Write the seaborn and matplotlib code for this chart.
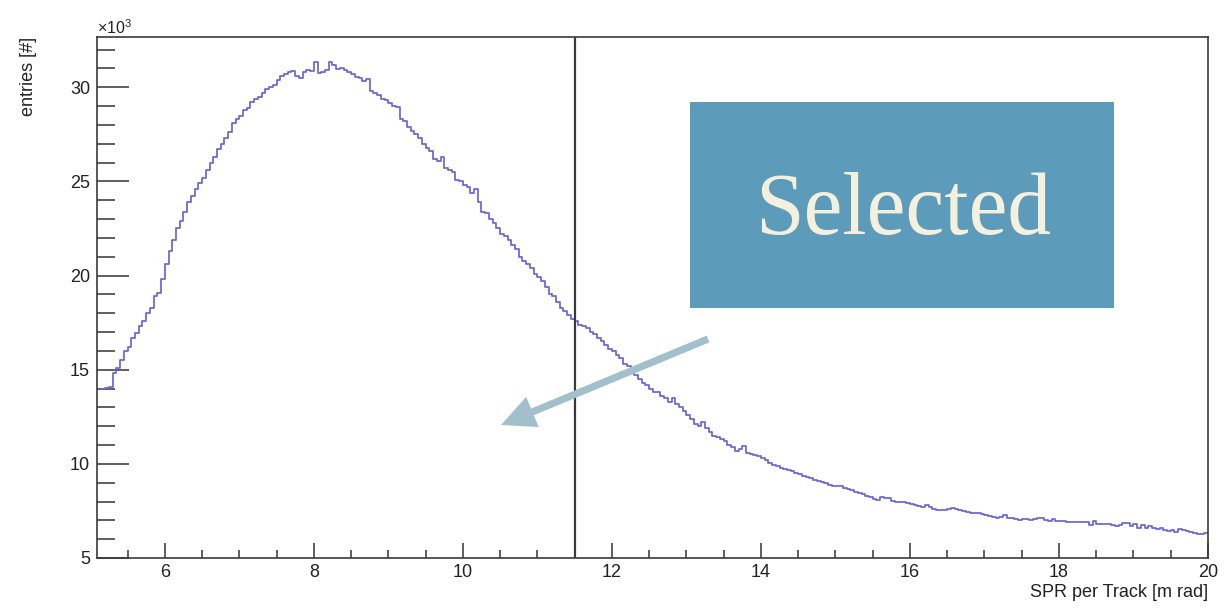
import numpy as np
import pandas as pd
import matplotlib
matplotlib.use("Agg")
import matplotlib.pyplot as plt
import seaborn as sns
from matplotlib.ticker import MultipleLocator, FixedLocator
from matplotlib.patches import Rectangle, FancyArrowPatch

# ---------------- data (entries in thousands) ----------------
bin_start = 5.15
bin_width = 0.05
counts_k = [
    # 5.15 - 5.95
    14.0, 14.05, 14.1, 14.8, 15.1, 15.5, 16.0, 16.2, 16.7, 16.95, 17.3, 17.6, 18.0, 18.3, 18.9, 19.1, 19.8,
    # 6.0 - 6.95
    20.6, 21.3, 21.9, 22.5, 22.9, 23.4, 23.9, 24.2, 24.6, 24.9, 25.2, 25.6, 26.0, 26.3, 26.7, 27.0, 27.3, 27.6, 28.1, 28.3,
    # 7.0 - 7.95
    28.5, 28.8, 28.9, 29.2, 29.4, 29.5, 29.7, 29.9, 30.0, 30.1, 30.4, 30.6, 30.7, 30.8, 30.85, 30.6, 30.5, 30.8, 30.9, 30.85,
    # 8.0 - 8.95
    31.35, 30.75, 30.8, 30.9, 31.35, 31.2, 30.95, 31.0, 30.9, 30.8, 30.7, 30.55, 30.5, 30.35, 30.45, 29.8, 29.7, 29.6, 29.4, 29.3,
    # 9.0 - 9.95
    29.15, 29.0, 28.95, 28.3, 28.2, 27.9, 27.7, 27.5, 27.3, 27.0, 26.8, 26.6, 26.2, 26.1, 26.3, 25.7, 25.6, 25.5, 25.1, 25.0,
    # 10.0 - 10.95
    24.8, 24.7, 24.4, 24.6, 23.9, 23.4, 23.3, 23.0, 22.8, 22.5, 22.2, 22.1, 21.9, 21.6, 21.4, 21.0, 20.8, 20.6, 20.4, 20.1,
    # 11.0 - 11.95
    19.9, 19.7, 19.4, 19.0, 18.9, 18.6, 18.3, 18.1, 17.9, 17.7, 17.6, 17.4, 17.3, 17.2, 17.0, 16.9, 16.7, 16.5, 16.3, 16.1,
    # 12.0 - 12.95
    16.0, 15.8, 15.6, 15.3, 15.2, 14.9, 14.7, 14.5, 14.3, 14.2, 14.0, 13.8, 13.8, 13.6, 13.5, 13.3, 13.5, 13.2, 13.0, 12.8,
    # 13.0 - 13.95
    12.6, 12.4, 12.1, 12.0, 12.2, 11.9, 11.7, 11.5, 11.4, 11.3, 11.2, 11.0, 10.9, 10.7, 10.8, 10.95, 10.6, 10.5, 10.45, 10.4,
    # 14.0 - 14.95
    10.3, 10.2, 10.05, 9.95, 9.9, 9.8, 9.75, 9.7, 9.6, 9.5, 9.45, 9.35, 9.3, 9.25, 9.15, 9.1, 9.05, 9.0, 8.9, 8.85,
    # 15.0 - 15.95
    8.85, 8.8, 8.7, 8.65, 8.6, 8.5, 8.45, 8.4, 8.3, 8.25, 8.15, 8.1, 8.25, 8.2, 8.2, 8.05, 8.0, 8.0, 7.95, 7.9,
    # 16.0 - 16.95
    7.85, 7.8, 7.75, 7.7, 7.8, 7.7, 7.6, 7.55, 7.55, 7.55, 7.6, 7.65, 7.6, 7.55, 7.5, 7.45, 7.4, 7.4, 7.37, 7.35,
    # 17.0 - 17.95
    7.3, 7.25, 7.2, 7.15, 7.2, 7.3, 7.15, 7.1, 7.05, 7.0, 7.05, 7.05, 7.0, 7.05, 7.1, 7.1, 7.0, 6.95, 7.05, 6.95,
    # 18.0 - 18.95
    6.95, 6.95, 6.9, 6.9, 6.9, 6.9, 6.9, 6.9, 6.75, 6.95, 6.8, 6.8, 6.8, 6.8, 6.75, 6.7, 6.75, 6.85, 6.85, 6.7,
    # 19.0 - 19.95
    6.8, 6.6, 6.75, 6.6, 6.7, 6.6, 6.55, 6.6, 6.5, 6.45, 6.5, 6.4, 6.55, 6.5, 6.45, 6.4, 6.35, 6.3, 6.25, 6.35,
]
x_major_ticks = [6, 8, 10, 12, 14, 16, 18, 20]
y_major_ticks = [5, 10, 15, 20, 25, 30]
cut_value = 11.5
x_label = "SPR per Track [m rad]"
y_label = "entries [#]"
exponent_label = r"$\mathregular{\times10^{3}}$"
box_label = "Selected"

# ---------------- figure ----------------
sns.set_style("white")
plt.rcParams["font.family"] = ["Liberation Sans", "DejaVu Sans"]

fig = plt.figure(figsize=(12.25, 6.11), dpi=100)
fig.patch.set_facecolor("white")
ax = fig.add_axes([97 / 1225, 53 / 611, 1111 / 1225, 521 / 611])

# histogram outline as a step line over bin edges
edges = bin_start + bin_width * np.arange(len(counts_k) + 1)
step_vals = list(counts_k) + [counts_k[-1]]
df = pd.DataFrame({"spr": edges, "entries": step_vals})
sns.lineplot(data=df, x="spr", y="entries", drawstyle="steps-post",
             estimator=None, sort=False, color="#6666d8", linewidth=1.25, ax=ax)

ax.axvline(cut_value, color="#3a3a3a", linewidth=1.6)

ax.set_xlim(5.09, 20.0)
ax.set_ylim(5.0, 32.67)

ax.xaxis.set_major_locator(FixedLocator(x_major_ticks))
ax.xaxis.set_minor_locator(MultipleLocator(0.5))
ax.yaxis.set_major_locator(FixedLocator(y_major_ticks))
ax.yaxis.set_minor_locator(MultipleLocator(1))
ax.set_xticklabels([str(v) for v in x_major_ticks])
ax.set_yticklabels([str(v) for v in y_major_ticks])

ax.tick_params(axis="both", which="both", direction="in", colors="#333333",
               labelcolor="#222222", width=1.1, labelsize=13,
               bottom=True, left=True, top=False, right=False)
ax.tick_params(axis="y", which="major", length=23, pad=5)
ax.tick_params(axis="y", which="minor", length=13)
ax.tick_params(axis="x", which="major", length=10.5, pad=4)
ax.tick_params(axis="x", which="minor", length=5.5)

for s in ax.spines.values():
    s.set_visible(True)
    s.set_color("#3a3a3a")
    s.set_linewidth(1.2)

ax.set_xlabel(x_label, loc="right", fontsize=13, color="#222222")
ax.xaxis.set_label_coords(1.0, -0.05)
ax.set_ylabel(y_label, loc="top", fontsize=13, color="#222222")
ax.yaxis.set_label_coords(-0.054, 1.0)

ax.text(0.0, 1.0, exponent_label, transform=ax.transAxes, ha="left", va="bottom",
        fontsize=11.5, color="#222222")

# "Selected" box
fig.add_artist(Rectangle((690 / 1225, 1 - 308 / 611), 424 / 1225, 206 / 611,
                         transform=fig.transFigure, facecolor="#5d9bbb",
                         edgecolor="none", zorder=5))
fig.text(903 / 1225, 1 - 234 / 611, box_label, ha="center", va="baseline",
         fontsize=63, color="#f4f0de", family=["Liberation Serif", "DejaVu Serif"],
         zorder=6)

# arrow
fig.add_artist(FancyArrowPatch((708 / 1225, 1 - 339 / 611), (501 / 1225, 1 - 425 / 611),
                               transform=fig.transFigure,
                               arrowstyle="simple,head_length=2.45,head_width=2.35,tail_width=0.52",
                               mutation_scale=10, color="#a2bfcc", linewidth=0,
                               shrinkA=0, shrinkB=0, zorder=5))

fig.savefig("out.png", dpi=100, facecolor="white")
